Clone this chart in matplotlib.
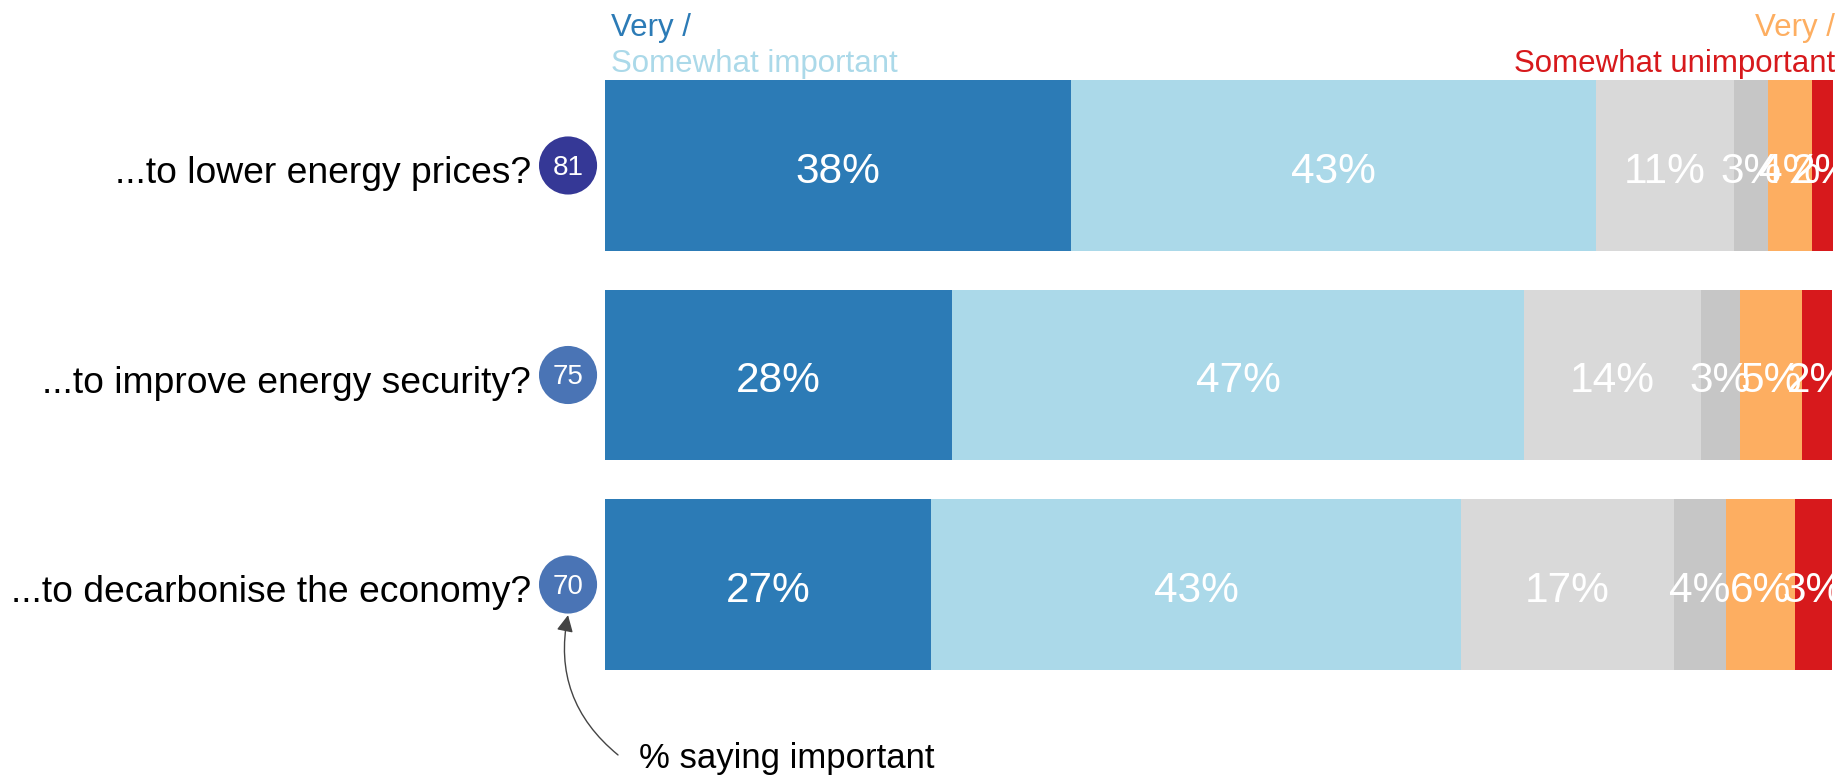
import numpy as np
import matplotlib.pyplot as plt

plt.rcParams['font.family'] = ['Liberation Sans', 'DejaVu Sans']

# data
questions = ["...to lower energy prices?",
             "...to improve energy security?",
             "...to decarbonise the economy?"]
segments = ["Very important", "Somewhat important", "Neither", "Don't know",
            "Somewhat unimportant", "Very unimportant"]
very_imp = [38.0, 28.3, 26.6]
some_imp = [42.8, 46.6, 43.2]
neither = [11.2, 14.4, 17.3]
dont_know = [2.8, 3.2, 4.3]
some_unimp = [3.6, 5.1, 5.6]
very_unimp = [1.7, 2.4, 3.0]
pct_important = [81, 75, 70]

seg_colors = ["#2c7bb6", "#abd9e9", "#d9d9d9", "#c6c6c6", "#fdae61", "#d7191c"]
circle_colors = ["#353896", "#4a74b5", "#4a74b5"]

W, H = 1843, 775
fig = plt.figure(figsize=(W / 100, H / 100), dpi=100)
# bar area in pixels: x 605..1833, y 80..670 (from top)
ax = fig.add_axes([605 / W, (H - 670) / H, (1833 - 605) / W, 590 / H])

data = np.array([very_imp, some_imp, neither, dont_know, some_unimp, very_unimp])
ypos = np.arange(len(questions))
left = np.zeros(len(questions))
for vals, col, name in zip(data, seg_colors, segments):
    ax.barh(ypos, vals, left=left, height=0.816, color=col, label=name)
    for y, l, v in zip(ypos, left, vals):
        ax.text(l + v / 2, y + 0.03, f"{v:.0f}%", ha="center", va="center",
                color="white", fontsize=30.5)
    left += vals

ax.set_xlim(0, left.max())
ax.set_ylim(2.408, -0.408)
ax.axis("off")

# question labels and "% important" circles
trans = ax.get_yaxis_transform()
ax.scatter([-0.0301] * 3, ypos, s=1750, c=circle_colors, transform=trans,
           clip_on=False, zorder=3, linewidths=0)
for y, q, n in zip(ypos, questions, pct_important):
    ax.text(-0.0603, y + 0.04, q, ha="right", va="center", fontsize=26.8,
            transform=trans, color="black")
    ax.text(-0.0301, y + 0.01, str(n), ha="center", va="center", fontsize=20,
            transform=trans, color="white", zorder=4)

# header legend
ax.text(0.005, 1.0746, "Very /", color=seg_colors[0], fontsize=22.5,
        transform=ax.transAxes, va="baseline")
ax.text(0.005, 1.0136, "Somewhat important", color=seg_colors[1], fontsize=22.5,
        transform=ax.transAxes, va="baseline")
ax.text(1.0015, 1.0746, "Very /", color=seg_colors[4], fontsize=22.5,
        transform=ax.transAxes, va="baseline", ha="right")
ax.text(1.0015, 1.0136, "Somewhat unimportant", color=seg_colors[5], fontsize=22.5,
        transform=ax.transAxes, va="baseline", ha="right")

# annotation
ax.annotate("", xy=(-0.0301, 0.093), xytext=(0.0106, -0.144),
            xycoords="axes fraction", textcoords="axes fraction",
            arrowprops=dict(arrowstyle="-|>", color="#444444", lw=1,
                            mutation_scale=25, shrinkA=0, shrinkB=0,
                            connectionstyle="arc3,rad=-0.3"),
            annotation_clip=False)
ax.text(0.0277, -0.166, "% saying important", fontsize=25,
        transform=ax.transAxes, va="baseline", color="black")

fig.savefig("out.png", dpi=100)
